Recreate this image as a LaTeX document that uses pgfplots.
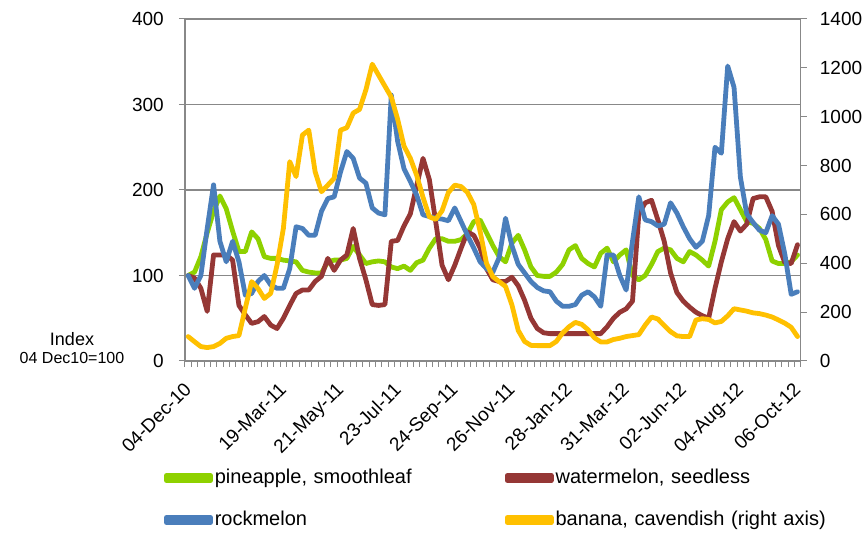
\documentclass[border=0pt]{standalone}
\usepackage{fontspec}
\setmainfont{Liberation Sans}
\usepackage{pgfplots}
\usepackage{pgfplotstable}
\pgfplotsset{compat=1.18}
\definecolor{cgreen}{HTML}{8ED100}
\definecolor{cred}{HTML}{953735}
\definecolor{cblue}{HTML}{4A7EBB}
\definecolor{cyellow}{HTML}{FFC000}
\definecolor{cgrid}{HTML}{888888}
\pgfplotstableread{
x g r b y
0 100 100 100 100
1 104 97 85 79
2 122 85 100 59
3 150 58 155 55
4 175 124 206 59
5 193 124 140 72
6 178 124 116 93
7 152 118 140 100
8 128 65 116 104
9 128 54 77 216
10 151 44 79 325
11 143 46 93 297
12 122 52 100 256
13 120 42 89 277
14 120 38 85 393
15 118 50 85 543
16 117 65 108 816
17 116 79 157 755
18 106 83 155 925
19 104 83 147 945
20 103 93 147 775
21 103 99 175 693
22 116 120 190 720
23 118 106 192 748
24 118 118 221 945
25 120 124 245 955
26 134 155 237 1015
27 124 120 214 1030
28 114 95 208 1110
29 116 66 179 1215
30 117 65 173 1170
31 116 66 171 1125
32 110 140 311 1080
33 108 141 257 990
34 111 158 225 880
35 106 172 210 830
36 115 205 194 760
37 118 237 171 670
38 132 212 169 590
39 143 163 167 580
40 143 112 166 615
41 140 95 164 690
42 140 112 179 720
43 142 132 163 714
44 149 151 147 690
45 163 147 132 640
46 165 132 116 530
47 150 108 108 400
48 135 95 104 345
49 122 93 121 325
50 116 93 167 305
51 138 98 135 230
52 147 88 113 125
53 130 71 103 80
54 110 50 93 64
55 100 38 86 63
56 99 33 82 63
57 99 32 81 63
58 104 32 70 80
59 113 32 64 115
60 130 32 64 140
61 135 32 66 158
62 120 32 77 150
63 114 32 81 128
64 110 32 75 95
65 126 32 64 78
66 132 40 124 78
67 116 50 124 88
68 124 57 100 93
69 130 61 83 100
70 100 70 140 104
71 95 172 192 108
72 100 185 165 147
73 113 188 163 180
74 128 165 158 172
75 132 140 160 145
76 130 103 185 120
77 120 80 173 103
78 116 70 157 100
79 128 63 143 100
80 124 57 133 168
81 118 53 140 173
82 111 50 170 170
83 140 85 250 156
84 177 116 243 162
85 186 143 345 185
86 191 163 320 214
87 177 152 215 209
88 163 160 172 204
89 161 190 162 197
90 155 192 153 194
91 142 192 150 188
92 117 175 170 180
93 114 135 160 168
94 114 115 125 155
95 116 114 78 138
96 124 136 81 100
}\data
\pgfplotsset{
  common/.style={
    width=615.7pt, height=342pt, scale only axis,
    at={(0pt,0pt)}, anchor=south west,
    xmin=-0.5, xmax=96.5,
    tick align=outside, major tick length=0pt, minor tick length=6pt,
    axis line style={cgrid, line width=1.2pt},
    tick style={cgrid, line width=1pt},
    tick label style={font=\fontsize{19}{22}\selectfont, text=black},
    /pgf/number format/assume math mode=true,
    /pgf/number format/1000 sep={},
  },
  series/.style={line width=4.8pt, line join=round, line cap=round, no marks},
}
\begin{document}
\begin{tikzpicture}
\path (-185pt,-174pt) rectangle (683pt,361pt);
\begin{axis}[common,
  ymin=0, ymax=400,
  axis x line*=bottom, axis y line*=left,
  ytick={0,100,200,300,400}, minor ytick={0,100,200,300,400},
  xminorticks=true, yminorticks=true,
  ymajorgrids, grid style={cgrid, line width=1.2pt},
  yticklabel style={anchor=east, inner sep=0pt, xshift=-21pt},
  xtick={0,15,24,33,42,51,60,69,78,87,96},
  xticklabels={04-Dec-10,19-Mar-11,21-May-11,23-Jul-11,24-Sep-11,26-Nov-11,28-Jan-12,31-Mar-12,02-Jun-12,04-Aug-12,06-Oct-12},
  minor xtick={-0.5,0.5,...,96.5},
  xticklabel style={rotate=45, anchor=north east, inner sep=0pt, xshift=-18pt, yshift=-10.5pt},
  legend columns=2,
  legend cell align=left,
  legend style={at={(-0.0341,-0.3158)}, anchor=north west, draw=none, fill=none,
    inner sep=0pt, outer sep=0pt, row sep=24pt, font=\fontsize{20}{24}\selectfont,
    nodes={inner sep=0pt, text height=14pt, text depth=4pt},
    /tikz/every odd column/.append style={column sep=2pt},
    /tikz/every even column/.append style={text width=290pt, align=left}},
  legend image code/.code={\path (0pt,-2.5pt) rectangle (44pt,2.5pt);
    \draw[#1, line width=5pt, line cap=round] (2.5pt,0pt) -- (41.5pt,0pt);},
]
\addplot[series, cgreen] table[x=x,y=g]{\data};
\addlegendentry{pineapple, smoothleaf}
\addplot[series, cred] table[x=x,y=r]{\data};
\addlegendentry{watermelon, seedless}
\addplot[series, cblue] table[x=x,y=b]{\data};
\addlegendentry{rockmelon}
\addlegendimage{series, cyellow}
\addlegendentry{banana, cavendish (right axis)}
\end{axis}
\begin{axis}[common,
  ymin=0, ymax=1400,
  axis y line*=right, axis x line=none,
  ytick={0,200,...,1400}, minor ytick={0,200,...,1400}, yminorticks=true,
  yticklabel style={anchor=west, inner sep=0pt, xshift=19pt},
]
\addplot[series, cyellow] table[x=x,y=y]{\data};
\end{axis}
\node[font=\fontsize{18}{20}\selectfont] at (-113pt,22pt) {Index};
\node[font=\fontsize{16}{18}\selectfont] at (-113pt,3pt) {04 Dec10=100};
\end{tikzpicture}
\end{document}
